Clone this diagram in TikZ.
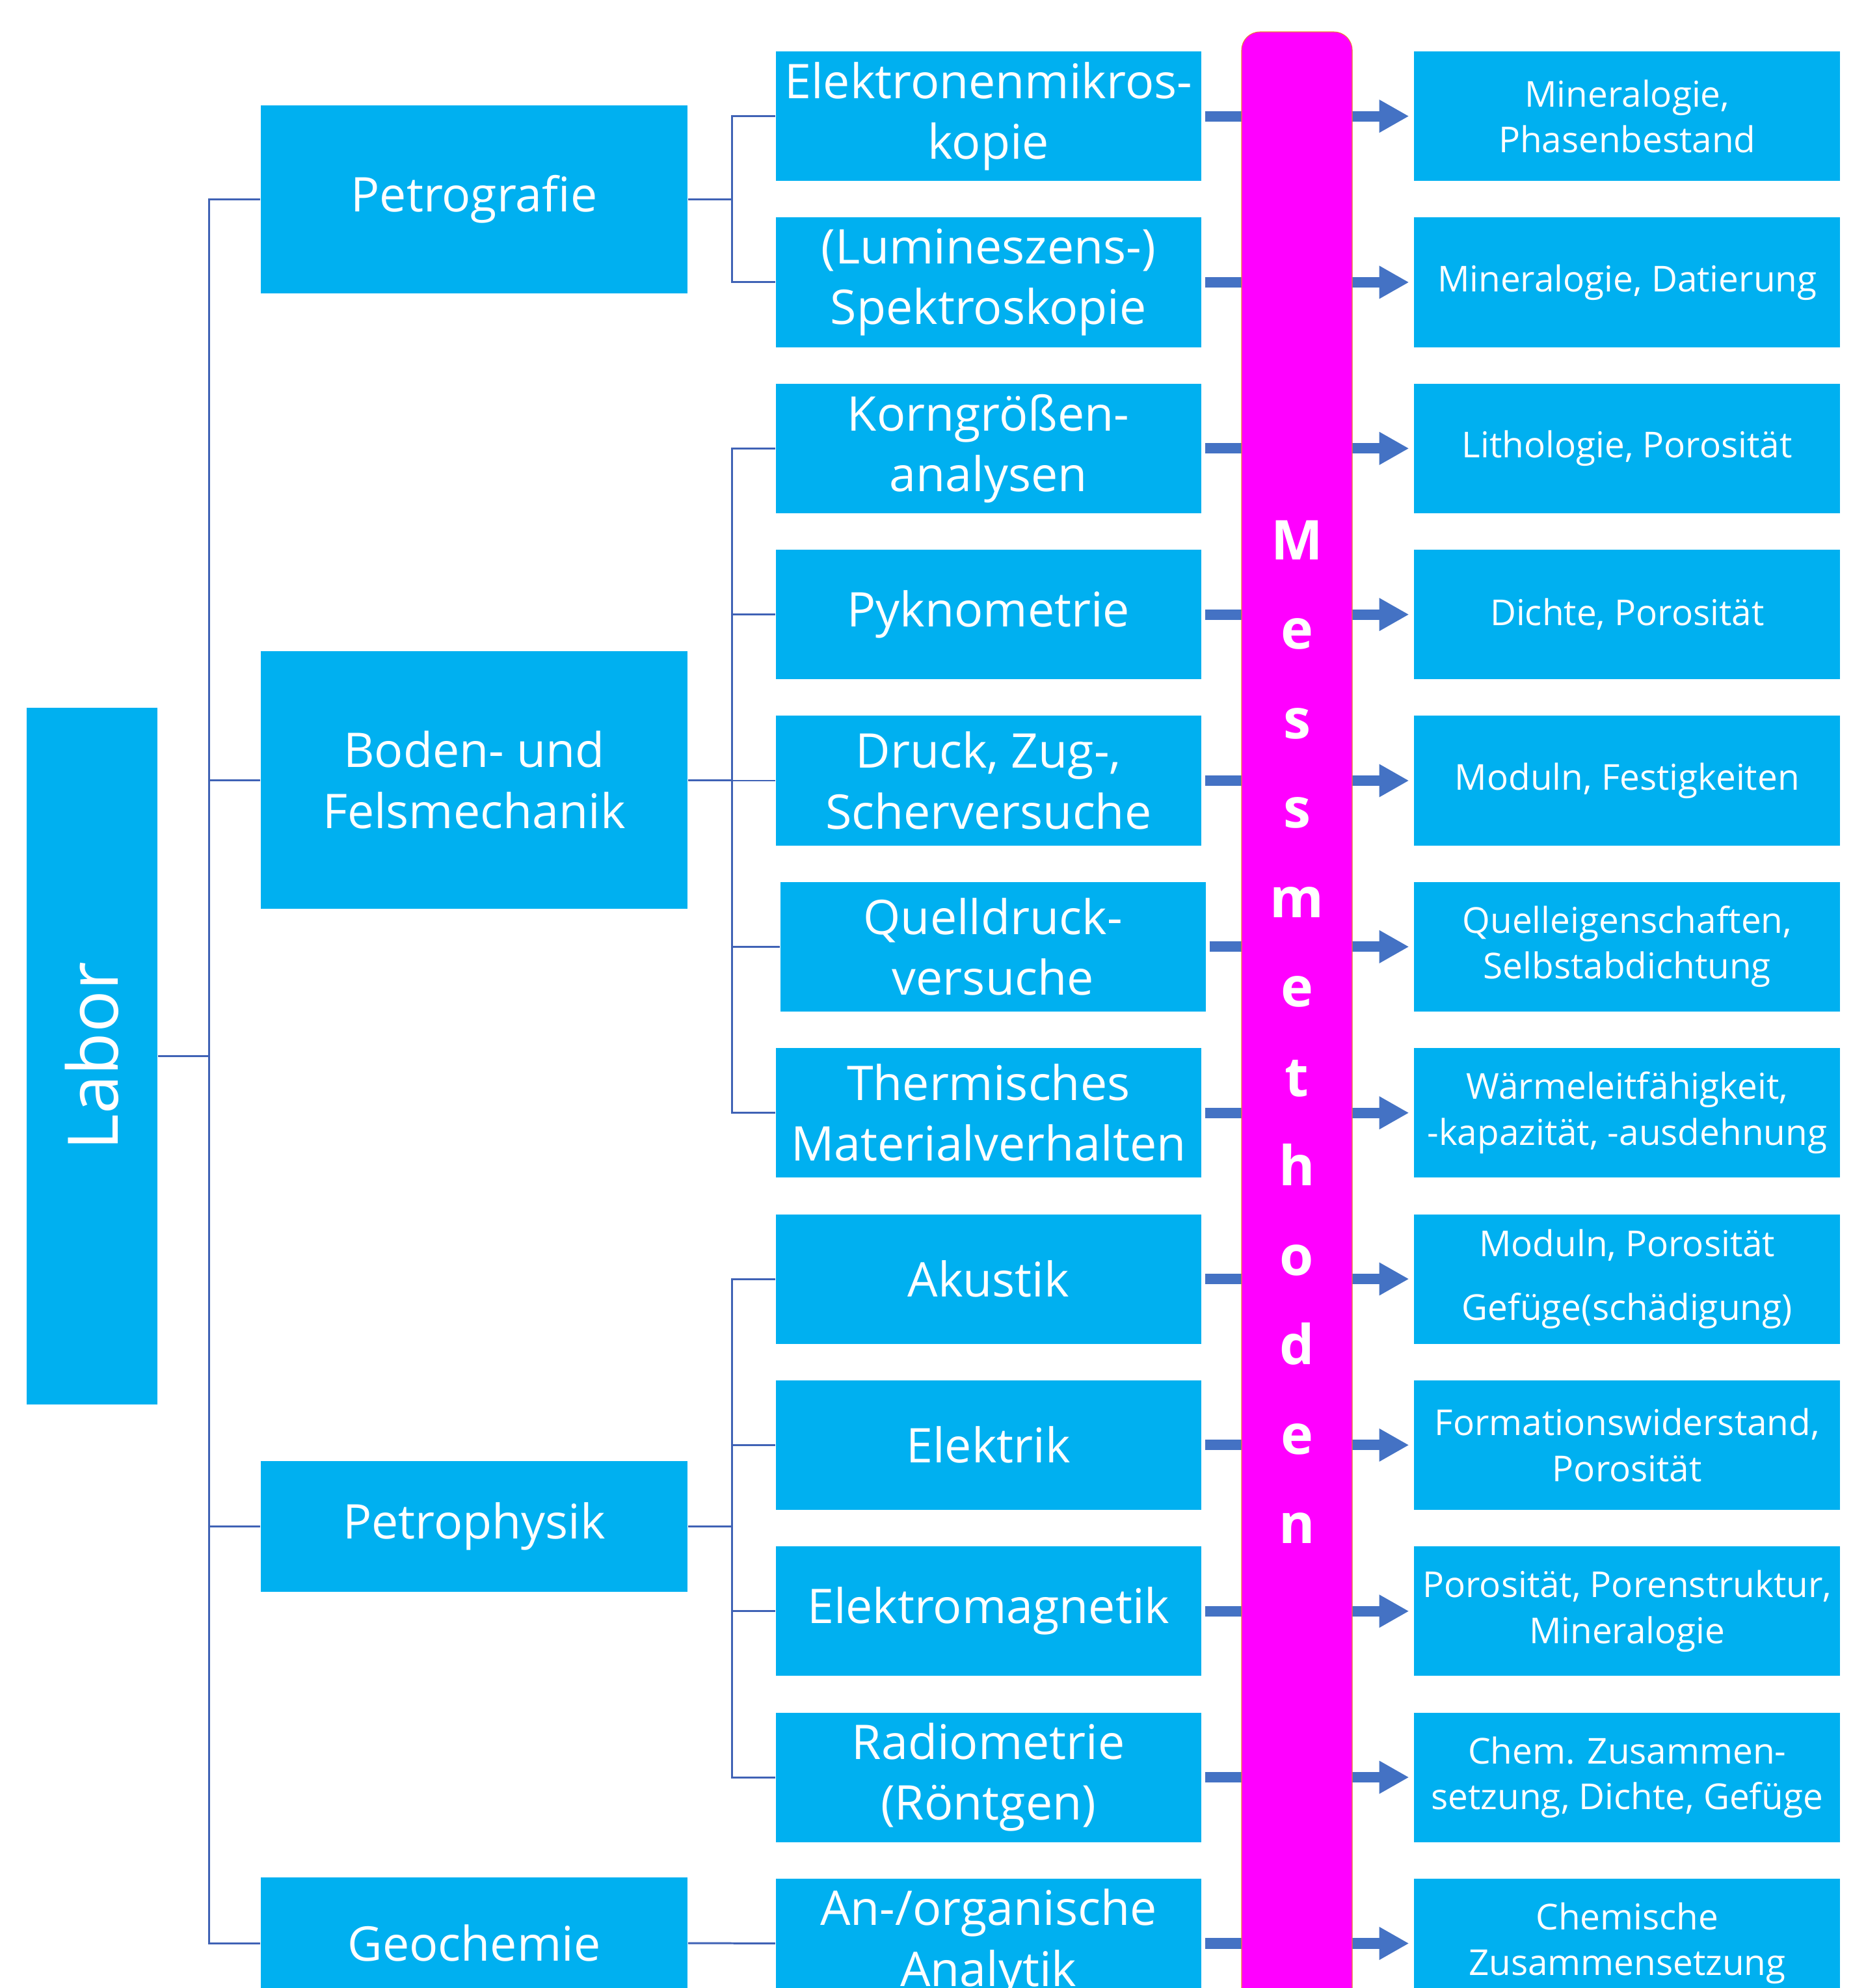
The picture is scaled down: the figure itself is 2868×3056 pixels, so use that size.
\documentclass[tikz,border=0pt]{standalone}
\usepackage{fontspec}
\setmainfont{Open Sans}
\usetikzlibrary{arrows.meta}

\definecolor{boxblue}{RGB}{0,176,240}
\definecolor{linkblue}{RGB}{63,98,181}
\definecolor{arrowblue}{RGB}{68,114,196}
\definecolor{barpink}{RGB}{255,0,255}
\definecolor{barline}{RGB}{237,125,49}

\tikzset{
  box/.style={fill=boxblue,text=white,inner sep=0pt,align=center,
    font=\fontsize{20.9}{26.5}\selectfont},
  methbox/.style={box,minimum width=6.54cm,minimum height=1.99cm},
  resbox/.style={box,minimum width=6.55cm,minimum height=1.99cm,
    font=\fontsize{15.6}{20}\selectfont},
  catbox/.style={box,minimum width=6.56cm},
  link/.style={draw=linkblue,line width=0.85pt},
  flow/.style={draw=arrowblue,line width=4.6pt,
    -{Triangle[length=13pt,width=13.5pt]},
    shorten <=0.05cm,shorten >=0.07cm},
  barletters/.style={text=white,inner sep=0pt,align=center,
    font=\bfseries\fontsize{24}{39.1}\selectfont}
}

\begin{document}
\begin{tikzpicture}[x=0.01cm,y=-0.01cm]
\useasboundingbox (0,0) rectangle (2868,3056);
\clip (0,0) rectangle (2868,3056);

\node[box,rotate=90,minimum width=10.71cm,minimum height=2.01cm,
  font=\fontsize{30.5}{36}\selectfont] (labor) at (141.5,1623.5) {Labor};

\node[catbox,minimum height=2.89cm] (petrografie) at (729,306.5) {Petrografie};
\node[catbox,minimum height=3.96cm] (boden) at (729,1199) {Boden- und\\Felsmechanik};
\node[catbox,minimum height=2.01cm] (petrophysik) at (729,2346.5) {Petrophysik};
\node[catbox,minimum height=2.02cm] (geochemie) at (729,2987) {Geochemie};

\matrix (m) [column sep=3.20cm,row sep=0.562cm,inner sep=0pt] at (2011,1583) {
  \node[methbox] (meth1) {Elektronenmikros-\\kopie}; &
  \node[resbox] (res1) {Mineralogie,\\Phasenbestand}; \\
  \node[methbox] (meth2) {(Lumineszens-)\\Spektroskopie}; &
  \node[resbox] (res2) {Mineralogie, Datierung}; \\
  \node[methbox] (meth3) {Korngrößen-\\analysen}; &
  \node[resbox] (res3) {Lithologie, Porosität}; \\
  \node[methbox] (meth4) {Pyknometrie}; &
  \node[resbox] (res4) {Dichte, Porosität}; \\
  \node[methbox] (meth5) {Druck, Zug-,\\Scherversuche}; &
  \node[resbox] (res5) {Moduln, Festigkeiten}; \\
  \node[methbox,xshift=0.07cm] (meth6) {Quelldruck-\\versuche}; &
  \node[resbox] (res6) {Quelleigenschaften,\\Selbstabdichtung}; \\
  \node[methbox] (meth7) {Thermisches\\Materialverhalten}; &
  \node[resbox] (res7) {Wärmeleitfähigkeit,\\-kapazität, -ausdehnung}; \\
  \node[methbox] (meth8) {Akustik}; &
  \node[resbox] (res8) {Moduln, Porosität\\[8pt]Gefüge(schädigung)}; \\
  \node[methbox] (meth9) {Elektrik}; &
  \node[resbox] (res9) {Formationswiderstand,\\Porosität}; \\
  \node[methbox] (meth10) {Elektromagnetik}; &
  \node[resbox] (res10) {Porosität, Porenstruktur,\\Mineralogie}; \\
  \node[methbox] (meth11) {Radiometrie\\(Röntgen)}; &
  \node[resbox] (res11) {Chem. Zusammen-\\setzung, Dichte, Gefüge}; \\
  \node[methbox] (meth12) {An-/organische\\Analytik}; &
  \node[resbox] (res12) {Chemische\\Zusammensetzung}; \\
};

% tree
\draw[link] (labor.south) -- ++(79,0) coordinate (lj);
\draw[link] (lj) |- (petrografie.west);
\draw[link] (lj) |- (boden.west);
\draw[link] (lj) |- (petrophysik.west);
\draw[link] (lj) |- (geochemie.west);
%
\draw[link] (petrografie.east) -- ++(68,0) coordinate (pj);
\draw[link] (pj) |- (meth1.west);
\draw[link] (pj) |- (meth2.west);
%
\draw[link] (boden.east) -- ++(68,0) coordinate (bj);
\draw[link] (bj) |- (meth3.west);
\draw[link] (bj) |- (meth4.west);
\draw[link] (bj) |- (meth5.west);
\draw[link] (bj) |- (meth6.west);
\draw[link] (bj) |- (meth7.west);
%
\draw[link] (petrophysik.east) -- ++(68,0) coordinate (ppj);
\draw[link] (ppj) |- (meth8.west);
\draw[link] (ppj) |- (meth9.west);
\draw[link] (ppj) |- (meth10.west);
\draw[link] (ppj) |- (meth11.west);
%
\draw[link] (geochemie.east) -- (meth12.west);

% arrows
\draw[flow] (meth1.east) -- (res1.west);
\draw[flow] (meth2.east) -- (res2.west);
\draw[flow] (meth3.east) -- (res3.west);
\draw[flow] (meth4.east) -- (res4.west);
\draw[flow] (meth5.east) -- (res5.west);
\draw[flow] (meth6.east) -- (res6.west);
\draw[flow] (meth7.east) -- (res7.west);
\draw[flow] (meth8.east) -- (res8.west);
\draw[flow] (meth9.east) -- (res9.west);
\draw[flow] (meth10.east) -- (res10.west);
\draw[flow] (meth11.east) -- (res11.west);
\draw[flow] (meth12.east) -- (res12.west);

% bar
\filldraw[fill=barpink,draw=barline,line width=0.3pt,rounded corners=0.28cm]
  (1909,49) rectangle (2079,3200);
\node[barletters,anchor=base] (mm) at (1994,2372.5)
  {M\\e\\s\\s\\m\\e\\t\\h\\o\\d\\e\\n};
\end{tikzpicture}
\end{document}
